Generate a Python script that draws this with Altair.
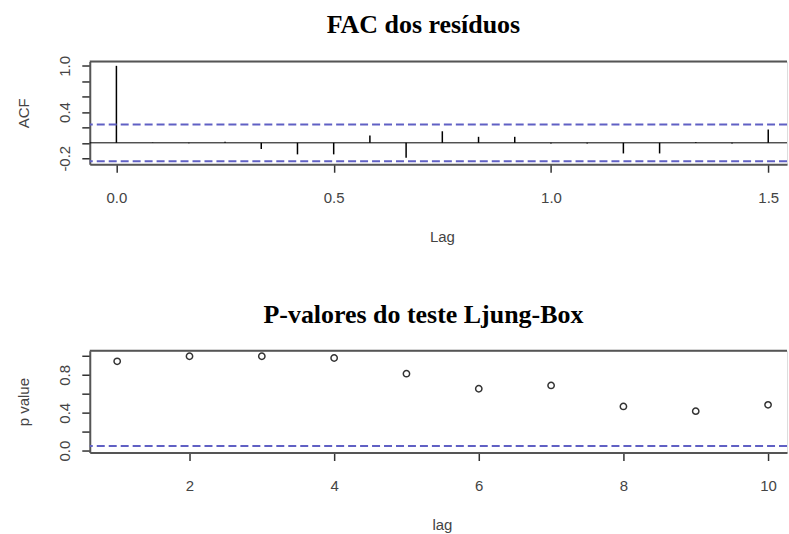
import altair as alt
import pandas as pd

# Residual autocorrelation (lag in months, shown in years on the axis)
acf_lag_months = [0, 1, 2, 3, 4, 5, 6, 7, 8, 9, 10, 11, 12, 13, 14, 15, 16, 17, 18]
acf_values = [1.0, 0.004, -0.006, 0.013, -0.08, -0.15, -0.15, 0.095, -0.195, 0.15,
              0.078, 0.078, -0.01, -0.01, -0.138, -0.138, 0.01, -0.01, 0.173]
acf_bound = 0.238

# Ljung-Box p-values
lb_lag = [1, 2, 3, 4, 5, 6, 7, 8, 9, 10]
lb_pvalue = [0.944, 0.997, 0.997, 0.979, 0.813, 0.654, 0.689, 0.467, 0.417, 0.484]
lb_level = 0.05

# Axis tick positions and which of them carry a label
acf_ticks = [-0.2, 0.0, 0.2, 0.4, 0.6, 0.8, 1.0]
acf_tick_labels = ["-0.2", "", "", "0.4", "", "", "1.0"]
p_ticks = [0.0, 0.2, 0.4, 0.6, 0.8, 1.0]
p_tick_labels = ["0.0", "", "0.4", "", "0.8", ""]

acf_df = pd.DataFrame({"month": acf_lag_months, "acf": acf_values})
lb_df = pd.DataFrame({"lag": lb_lag, "p": lb_pvalue})

W = 699
H_TOP = 103
H_BOT = 102
FRAME = "#555555"
TEXT = "#444444"
DASH = "#6060c4"

axis_common = dict(
    grid=False,
    domainColor=FRAME,
    domainWidth=2,
    tickColor="#333333",
    tickWidth=1.5,
    tickSize=8,
    labelFont="Liberation Sans",
    labelFontSize=15,
    labelColor=TEXT,
    labelOverlap=False,
    titleFont="Liberation Sans",
    titleFontSize=15,
    titleFontWeight="normal",
    titleColor=TEXT,
)


def y_axis(title, values, labels, height):
    # pick the label text by tick index; unlabeled ticks get an empty string
    label_list = "[" + ", ".join(f"'{s}'" for s in labels) + "]"
    value_list = "[" + ", ".join(f"{v}" for v in values) + "]"
    return alt.Axis(
        title=title,
        values=values,
        labelExpr=f"{label_list}[indexof({value_list}, datum.value)] || ''",
        labelAngle=-90,
        labelAlign="center",
        labelBaseline="alphabetic",
        labelPadding=12,
        titleAngle=-90,
        titleAlign="center",
        titleBaseline="middle",
        titleX=-66,
        titleY=height / 2,
        **axis_common,
    )


def x_axis(title, values, fmt, title_y):
    return alt.Axis(
        title=title,
        values=values,
        format=fmt,
        labelBaseline="alphabetic",
        labelPadding=30,
        titleAlign="center",
        titleBaseline="alphabetic",
        titleX=353,
        titleY=title_y,
        **axis_common,
    )


def panel_title(text, offset):
    return alt.TitleParams(
        text,
        font="Liberation Serif",
        fontSize=26,
        fontWeight="bold",
        color="black",
        anchor="middle",
        frame="group",
        baseline="alphabetic",
        offset=offset,
        dx=-15,
    )


# ---- ACF panel ----
x_top = alt.Scale(domain=[-0.0613, 1.5432], nice=False, zero=False)
y_top = alt.Scale(domain=[-0.2785, 1.056], nice=False, zero=False)
y_top_axis = y_axis("ACF", acf_ticks, acf_tick_labels, H_TOP)

spikes = alt.Chart(acf_df).transform_calculate(
    lag="datum.month / 12", zero="0"
).mark_rule(color="black", strokeWidth=1.5).encode(
    x=alt.X("lag:Q", scale=x_top, axis=x_axis("Lag", [0, 0.5, 1.0, 1.5], ".1f", 77)),
    y=alt.Y("zero:Q", scale=y_top, axis=y_top_axis),
    y2="acf:Q",
)

zero_line = alt.Chart(pd.DataFrame({"v": [0]})).mark_rule(color="black", strokeWidth=1).encode(
    y=alt.Y("v:Q", scale=y_top, axis=y_top_axis)
)

bounds = alt.Chart(pd.DataFrame({"v": [acf_bound, -acf_bound]})).mark_rule(
    color=DASH, strokeWidth=2, strokeDash=[8, 4]
).encode(y=alt.Y("v:Q", scale=y_top, axis=y_top_axis))

top_edge = alt.Chart(pd.DataFrame({"v": [0]})).mark_rule(color=FRAME, strokeWidth=2).encode(
    x=alt.value(0), x2=alt.value(W), y=alt.value(0)
)

acf_chart = alt.layer(spikes, bounds, zero_line, top_edge).properties(
    width=W, height=H_TOP, title=panel_title("FAC dos resíduos", -4)
)

# ---- Ljung-Box panel ----
x_bot = alt.Scale(domain=[0.621, 10.262], nice=False, zero=False)
y_bot = alt.Scale(domain=[-0.02, 1.055], nice=False, zero=False)
y_bot_axis = y_axis("p value", p_ticks, p_tick_labels, H_BOT)

points = alt.Chart(lb_df).mark_point(
    shape="circle", filled=False, size=40, strokeWidth=1.5, color="#333333", opacity=1
).encode(
    x=alt.X("lag:Q", scale=x_bot, axis=x_axis("lag", [2, 4, 6, 8, 10], "d", 77)),
    y=alt.Y("p:Q", scale=y_bot, axis=y_bot_axis),
)

level = alt.Chart(pd.DataFrame({"v": [lb_level]})).mark_rule(
    color=DASH, strokeWidth=2, strokeDash=[8, 4]
).encode(y=alt.Y("v:Q", scale=y_bot, axis=y_bot_axis))

bot_edge = alt.Chart(pd.DataFrame({"v": [0]})).mark_rule(color=FRAME, strokeWidth=2).encode(
    x=alt.value(0), x2=alt.value(W), y=alt.value(0)
)

lb_chart = alt.layer(points, level, bot_edge).properties(
    width=W, height=H_BOT, title=panel_title("P-valores do teste Ljung-Box", 1)
)

chart = (
    alt.vconcat(acf_chart, lb_chart, spacing=56)
    .properties(padding={"left": 16, "top": 11, "right": 0, "bottom": 0})
    .configure_view(stroke=None)
    .configure(background="white")
)

chart.save("out.html", embed_options={"renderer": "svg", "actions": False})
